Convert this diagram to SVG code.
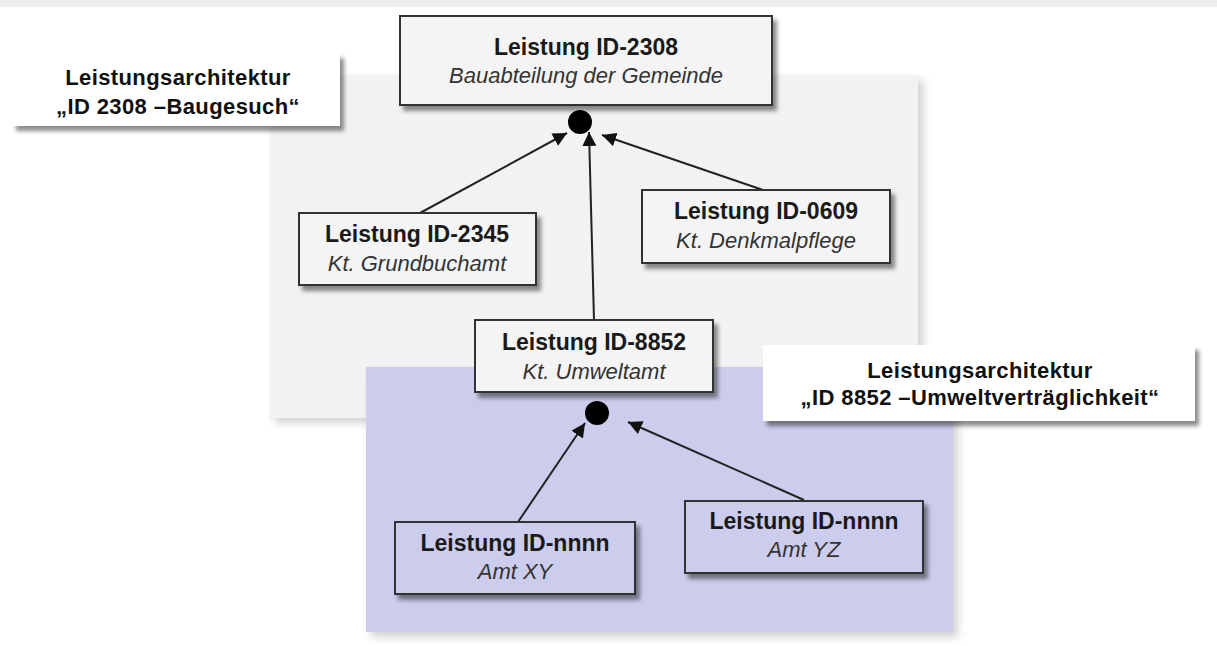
<svg xmlns="http://www.w3.org/2000/svg" width="1217" height="646" viewBox="0 0 1217 646">
<defs>
<filter id="sh" x="-10%" y="-10%" width="130%" height="140%">
<feDropShadow dx="4" dy="5" stdDeviation="2.2" flood-color="#000" flood-opacity="0.45"/>
</filter>
<filter id="psh" x="-5%" y="-5%" width="115%" height="115%">
<feDropShadow dx="5" dy="5" stdDeviation="4" flood-color="#000" flood-opacity="0.18"/>
</filter>
<marker id="ah" markerUnits="userSpaceOnUse" markerWidth="16" markerHeight="14" refX="14" refY="7" orient="auto">
<path d="M0,0 L14,7 L0,14 Z" fill="#111"/>
</marker>
</defs>
<style>
.box{stroke:#333;stroke-width:2}
.light{fill:#f4f4f4}
.lav{fill:#ccccec}
.title{font-family:"Liberation Sans",Arial,sans-serif;font-weight:bold;font-size:23px;fill:#1a1a1a;text-anchor:middle}
.sub{font-family:"Liberation Sans",Arial,sans-serif;font-style:italic;font-size:22px;fill:#333;text-anchor:middle}
.lbl{font-family:"Liberation Sans",Arial,sans-serif;font-weight:bold;font-size:22px;fill:#111;text-anchor:middle;letter-spacing:0.4px}
.conn{stroke:#222;stroke-width:2;fill:none;marker-end:url(#ah)}
</style>
<rect x="0" y="0" width="1217" height="646" fill="#fff"/>
<rect x="0" y="0" width="1217" height="7" fill="#eeeeee"/>
<g id="panel-gray"><rect x="270" y="75" width="648" height="343" fill="#f2f2f2" filter="url(#psh)"/></g>
<g id="panel-lavender"><rect x="366" y="367" width="587" height="265" fill="#ccccec" filter="url(#psh)"/></g>
<g id="label-2308">
<rect x="12" y="53" width="328" height="73" fill="#fff" filter="url(#sh)"/>
<text class="lbl" x="178" y="85">Leistungsarchitektur</text>
<text class="lbl" x="178" y="114">„ID 2308  –Baugesuch“</text>
</g>
<g id="label-8852">
<rect x="763" y="345" width="432" height="76" fill="#fff" filter="url(#sh)"/>
<text class="lbl" x="980" y="378">Leistungsarchitektur</text>
<text class="lbl" x="980" y="405">„ID 8852  –Umweltverträglichkeit“</text>
</g>
<g id="connectors">
<line class="conn" x1="420" y1="213" x2="567" y2="133"/>
<line class="conn" x1="594" y1="320" x2="589" y2="132"/>
<line class="conn" x1="763" y1="190" x2="602" y2="135"/>
<line class="conn" x1="518" y1="522" x2="585" y2="423"/>
<line class="conn" x1="804" y1="500" x2="628" y2="422"/>
<circle cx="580" cy="122" r="12" fill="#000"/>
<circle cx="597" cy="413" r="12" fill="#000"/>
</g>
<g id="node-2308">
<rect class="box light" x="400" y="16" width="372" height="89" filter="url(#sh)"/>
<text class="title" x="586" y="55">Leistung ID-2308</text>
<text class="sub" x="586" y="83">Bauabteilung  der Gemeinde</text>
</g>
<g id="node-2345">
<rect class="box light" x="299" y="213" width="237" height="72" filter="url(#sh)"/>
<text class="title" x="417" y="242">Leistung ID-2345</text>
<text class="sub" x="417" y="271">Kt. Grundbuchamt</text>
</g>
<g id="node-0609">
<rect class="box light" x="642" y="190" width="248" height="73" filter="url(#sh)"/>
<text class="title" x="766" y="219">Leistung ID-0609</text>
<text class="sub" x="766" y="248">Kt. Denkmalpflege</text>
</g>
<g id="node-8852">
<rect class="box light" x="475" y="320" width="238" height="72" filter="url(#sh)"/>
<text class="title" x="594" y="350">Leistung ID-8852</text>
<text class="sub" x="594" y="379">Kt. Umweltamt</text>
</g>
<g id="node-xy">
<rect class="box lav" x="395" y="522" width="240" height="72" filter="url(#sh)"/>
<text class="title" x="515" y="551">Leistung ID-nnnn</text>
<text class="sub" x="515" y="579">Amt XY</text>
</g>
<g id="node-yz">
<rect class="box lav" x="685" y="501" width="238" height="72" filter="url(#sh)"/>
<text class="title" x="804" y="529">Leistung ID-nnnn</text>
<text class="sub" x="804" y="557">Amt YZ</text>
</g>
</svg>
